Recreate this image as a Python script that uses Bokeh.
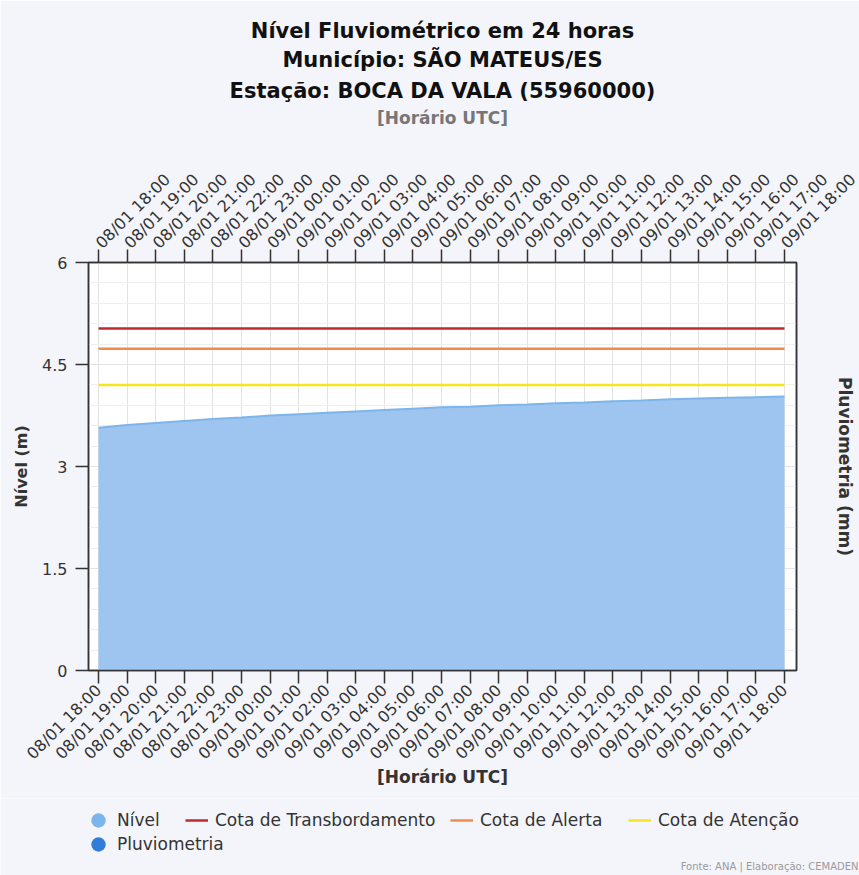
import math
from bokeh.plotting import figure
from bokeh.layouts import column
from bokeh.models import (Range1d, LinearAxis, FixedTicker, Title, Legend, LegendItem, Label)
from bokeh.embed import file_html
from bokeh.resources import INLINE

# ---------------- data ----------------
hours = list(range(25))
time_labels = [
    "08/01 18:00", "08/01 19:00", "08/01 20:00", "08/01 21:00", "08/01 22:00", "08/01 23:00",
    "09/01 00:00", "09/01 01:00", "09/01 02:00", "09/01 03:00", "09/01 04:00", "09/01 05:00",
    "09/01 06:00", "09/01 07:00", "09/01 08:00", "09/01 09:00", "09/01 10:00", "09/01 11:00",
    "09/01 12:00", "09/01 13:00", "09/01 14:00", "09/01 15:00", "09/01 16:00", "09/01 17:00",
    "09/01 18:00",
]
nivel = [3.57, 3.61, 3.64, 3.67, 3.70, 3.72, 3.75, 3.77, 3.79, 3.81, 3.83, 3.85,
         3.87, 3.88, 3.90, 3.91, 3.93, 3.94, 3.96, 3.97, 3.99, 4.00, 4.01, 4.02, 4.03]
cota_transbordamento = 5.03
cota_alerta = 4.73
cota_atencao = 4.20
y_ticks = [0, 1.5, 3, 4.5, 6]
y_tick_labels = ["0", "1.5", "3", "4.5", "6"]
y_minor = [0.3, 0.6, 0.9, 1.2, 1.8, 2.1, 2.4, 2.7, 3.3, 3.6, 3.9, 4.2, 4.8, 5.1, 5.4, 5.7]

FONT = "DejaVu Sans"
DARK = "#333333"
BG = "#f4f5fa"
W = 859
NAN = float("nan")

p = figure(width=W, height=798, title=None,
           x_range=Range1d(-0.35, 24.42), y_range=Range1d(0, 6),
           output_backend="svg", toolbar_location=None,
           min_border_left=88, min_border_right=63, min_border_top=262, min_border_bottom=128,
           background_fill_color="white", border_fill_color=BG,
           outline_line_color=DARK, outline_line_width=1.5)
p.frame_align = False

# grids
p.xgrid.ticker = FixedTicker(ticks=hours)
p.xgrid.grid_line_color = "#e3e3e3"
p.ygrid.ticker = FixedTicker(ticks=y_ticks, minor_ticks=y_minor)
p.ygrid.grid_line_color = "#e3e3e3"
p.ygrid.minor_grid_line_color = "#efefef"

# data glyphs
p.varea(x=hours, y1=[0] * len(hours), y2=nivel, fill_color="#9dc5ef", fill_alpha=1.0)
p.line(x=hours, y=nivel, line_color="#7cb5ec", line_width=2)
p.line(x=[hours[0], hours[-1]], y=[cota_transbordamento] * 2, line_color="#bf2a2e", line_width=2.5)
p.line(x=[hours[0], hours[-1]], y=[cota_alerta] * 2, line_color="#f08c4a", line_width=2.5)
p.line(x=[hours[0], hours[-1]], y=[cota_atencao] * 2, line_color="#f5e61e", line_width=2.5)

overrides = {h: lbl for h, lbl in zip(hours, time_labels)}

def style_x_axis(ax):
    ax.ticker = FixedTicker(ticks=hours)
    ax.major_label_overrides = overrides
    ax.major_label_orientation = math.pi / 4
    ax.major_label_text_font = FONT
    ax.major_label_text_font_size = "16px"
    ax.major_label_text_color = DARK
    ax.major_tick_out = 13
    ax.major_tick_in = 0
    ax.minor_tick_out = 0
    ax.minor_tick_in = 0
    ax.axis_line_color = DARK
    ax.axis_line_width = 1.5
    ax.major_tick_line_color = DARK
    ax.major_tick_line_width = 1.5
    ax.major_label_standoff = 4
    ax.axis_label_text_font = FONT
    ax.axis_label_text_font_style = "bold"
    ax.axis_label_text_font_size = "17px"

xb = p.xaxis[0]
style_x_axis(xb)
xb.axis_label = "[Horário UTC]"
xb.axis_label_text_color = DARK
xb.axis_label_standoff = -6

yl = p.yaxis[0]
yl.ticker = FixedTicker(ticks=y_ticks)
yl.major_label_overrides = {t: l for t, l in zip(y_ticks, y_tick_labels)}
yl.major_label_text_font = FONT
yl.major_label_text_font_size = "16px"
yl.major_label_text_color = DARK
yl.major_tick_out = 13
yl.major_tick_in = 0
yl.minor_tick_out = 0
yl.axis_line_color = DARK
yl.axis_line_width = 1.5
yl.major_tick_line_color = DARK
yl.major_tick_line_width = 1.5
yl.major_label_standoff = 8
yl.axis_label = "Nível (m)"
yl.axis_label_text_font = FONT
yl.axis_label_text_font_style = "bold"
yl.axis_label_text_font_size = "16px"
yl.axis_label_text_color = DARK
yl.axis_label_standoff = 8

# top axis (its label is the grey subtitle)
xt = LinearAxis()
style_x_axis(xt)
xt.axis_label = "[Horário UTC]"
xt.axis_label_text_color = "#777777"
xt.axis_label_standoff = 32
p.add_layout(xt, "above")

# right axis (pluviometria, empty)
p.extra_y_ranges = {"pluv": Range1d(0, 1)}
yr = LinearAxis(y_range_name="pluv", ticker=FixedTicker(ticks=[]),
                axis_label="Pluviometria (mm)",
                axis_label_text_font=FONT, axis_label_text_font_style="bold",
                axis_label_text_font_size="17px", axis_label_text_color=DARK,
                axis_label_standoff=38, axis_line_color=DARK, axis_line_width=1.5,
                major_tick_out=0, minor_tick_out=0)
p.add_layout(yr, "right")

# titles (added from inner to outer)
for t, so in [("Estação: BOCA DA VALA (55960000)", 6), ("Município: SÃO MATEUS/ES", 3),
              ("Nível Fluviométrico em 24 horas", 3)]:
    p.add_layout(Title(text=t, align="center", text_font=FONT, text_font_size="21px",
                       text_font_style="bold", text_color="#111111", offset=-10, standoff=so), "above")

# ---------------- legend strip ----------------
lf = figure(width=W, height=77, x_range=Range1d(0, 1), y_range=Range1d(0, 1),
            x_axis_location=None, y_axis_location=None, toolbar_location=None,
            output_backend="svg", min_border=0, outline_line_color=None,
            background_fill_color=BG, border_fill_color=BG)
lf.frame_align = False
lf.grid.grid_line_color = None

r_nivel_leg = lf.scatter(x=[NAN], y=[NAN], marker="circle", fill_color="#7cb5ec", line_color=None)
r_pluv_leg = lf.scatter(x=[NAN], y=[NAN], marker="circle", fill_color="#2f7ed8", line_color=None)
r_transb = lf.line(x=[NAN, NAN], y=[NAN, NAN], line_color="#bf2a2e", line_width=2.5)
r_alerta = lf.line(x=[NAN, NAN], y=[NAN, NAN], line_color="#f08c4a", line_width=2.5)
r_atencao = lf.line(x=[NAN, NAN], y=[NAN, NAN], line_color="#f5e61e", line_width=2.5)

def add_legend(label, renderer, loc, gw, gh, standoff):
    lg = Legend(items=[LegendItem(label=label, renderers=[renderer])], location=loc,
                orientation="horizontal", glyph_width=gw, glyph_height=gh, label_standoff=standoff,
                padding=0, margin=0, border_line_color=None, background_fill_alpha=0,
                label_text_font=FONT, label_text_font_size="17px", label_text_color=DARK,
                label_height=20)
    lf.add_layout(lg, "center")

add_legend("Nível", r_nivel_leg, (80, 37), 36, 36, 1)
add_legend("Cota de Transbordamento", r_transb, (185, 45), 23, 20, 7)
add_legend("Cota de Alerta", r_alerta, (450, 45), 23, 20, 7)
add_legend("Cota de Atenção", r_atencao, (628, 45), 23, 20, 7)
add_legend("Pluviometria", r_pluv_leg, (80, 13), 36, 36, 1)

lf.add_layout(Label(x=858, y=9, x_units="screen", y_units="screen", text="Fonte: ANA | Elaboração: CEMADEN",
                    text_align="right", text_baseline="middle", text_font=FONT, text_font_size="10px",
                    text_color="#9a9a9a"))

layout = column(p, lf, spacing=0)
open("out.html", "w").write(file_html(layout, INLINE))
